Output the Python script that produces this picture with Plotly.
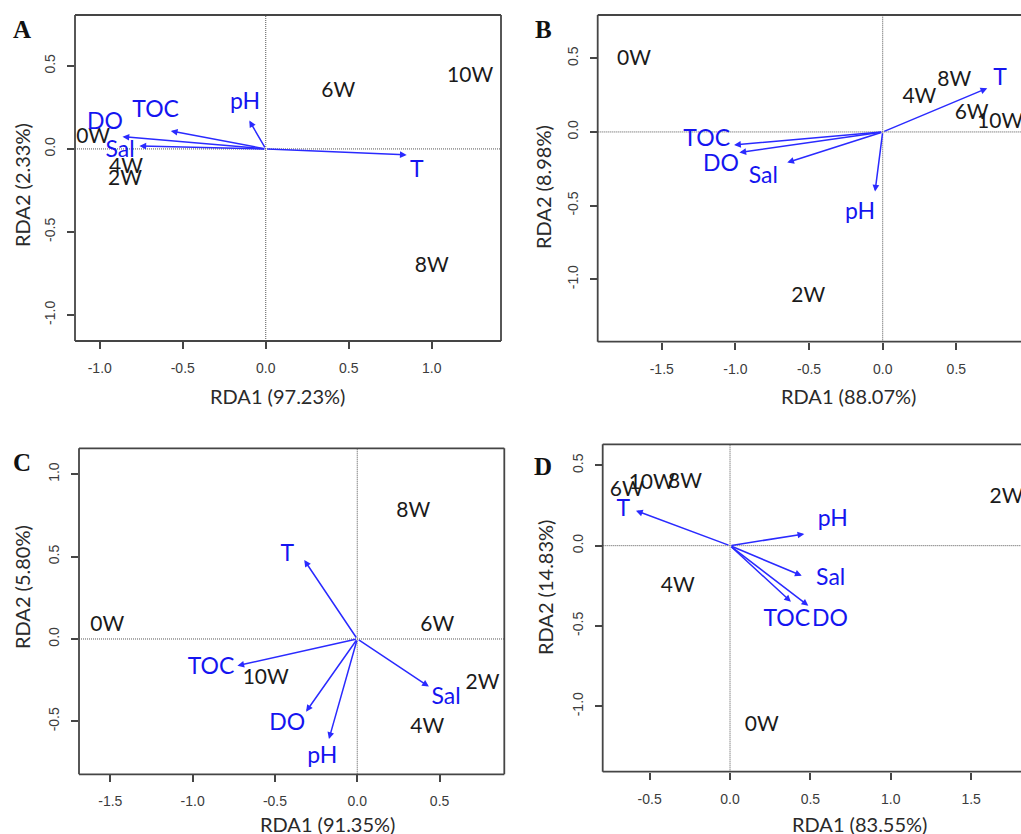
import plotly.graph_objects as go

# ---------------- data ----------------
sites = ["0W", "2W", "4W", "6W", "8W", "10W"]
env = ["T", "pH", "TOC", "DO", "Sal"]

A_site_x = [-1.04, -0.848, -0.842, 0.437, 1.0, 1.231]
A_site_y = [0.065, -0.187, -0.116, 0.345, -0.709, 0.436]
A_tip_x = [0.849, -0.099, -0.572, -0.863, -0.761]
A_tip_y = [-0.036, 0.171, 0.108, 0.074, 0.018]
A_lab_x = [0.91, -0.125, -0.663, -0.968, -0.878]
A_lab_y = [-0.137, 0.275, 0.229, 0.155, -0.016]

B_site_x = [-1.688, -0.505, 0.249, 0.604, 0.486, 0.797]
B_site_y = [0.493, -1.118, 0.235, 0.122, 0.346, 0.063]
B_tip_x = [0.710, -0.052, -1.009, -0.973, -0.648]
B_tip_y = [0.297, -0.405, -0.088, -0.140, -0.208]
B_lab_x = [0.796, -0.154, -1.195, -1.098, -0.81]
B_lab_y = [0.358, -0.552, -0.054, -0.229, -0.308]

C_site_x = [-1.518, 0.761, 0.425, 0.486, 0.34, -0.556]
C_site_y = [0.079, -0.273, -0.536, 0.079, 0.769, -0.243]
C_tip_x = [-0.322, -0.172, -0.728, -0.311, 0.435]
C_tip_y = [0.479, -0.607, -0.162, -0.441, -0.289]
C_lab_x = [-0.425, -0.212, -0.888, -0.425, 0.539]
C_lab_y = [0.51, -0.72, -0.178, -0.518, -0.36]

D_site_x = [0.197, 1.72, -0.325, -0.642, -0.280, -0.487]
D_site_y = [-1.123, 0.301, -0.255, 0.342, 0.392, 0.388]
D_tip_x = [-0.585, 0.462, 0.379, 0.487, 0.446]
D_tip_y = [0.218, 0.073, -0.349, -0.374, -0.187]
D_lab_x = [-0.664, 0.639, 0.353, 0.622, 0.626]
D_lab_y = [0.218, 0.16, -0.467, -0.463, -0.209]

panel_letters = ["A", "B", "C", "D"]
x_titles = ["RDA1 (97.23%)", "RDA1 (88.07%)", "RDA1 (91.35%)", "RDA1 (83.55%)"]
y_titles = ["RDA2 (2.33%)", "RDA2 (8.98%)", "RDA2 (5.80%)", "RDA2 (14.83%)"]

A_xticks = [-1.0, -0.5, 0.0, 0.5, 1.0]
A_yticks = [-1.0, -0.5, 0.0, 0.5]
B_xticks = [-1.5, -1.0, -0.5, 0.0, 0.5]
B_yticks = [-1.0, -0.5, 0.0, 0.5]
C_xticks = [-1.5, -1.0, -0.5, 0.0, 0.5]
C_yticks = [-0.5, 0.0, 0.5, 1.0]
D_xticks = [-0.5, 0.0, 0.5, 1.0, 1.5]
D_yticks = [-1.0, -0.5, 0.0, 0.5]

# ---------------- layout / styling ----------------
W, H = 1021, 834
BLUE_LINE = "#2a2aff"
BLUE_TEXT = "#1515f0"
FRAME = "#454545"
LABEL_FONT = "Lato"

panels = [
    dict(sx=A_site_x, sy=A_site_y, tx=A_tip_x, ty=A_tip_y, lx=A_lab_x, ly=A_lab_y,
         xr=[-1.149, 1.417], yr=[-1.157, 0.807], xt=A_xticks, yt=A_yticks,
         px=[75, 501], py=[15, 341], cut=False,
         letter=(22, 29), xtitle=(277, 396), ytitle=(22, 185)),
    dict(sx=B_site_x, sy=B_site_y, tx=B_tip_x, ty=B_tip_y, lx=B_lab_x, ly=B_lab_y,
         xr=[-1.935, 0.939], yr=[-1.424, 0.794], xt=B_xticks, yt=B_yticks,
         px=[597.7, 1021], py=[15, 341.7], cut=True,
         letter=(543, 29), xtitle=(848, 396), ytitle=(543, 187)),
    dict(sx=C_site_x, sy=C_site_y, tx=C_tip_x, ty=C_tip_y, lx=C_lab_x, ly=C_lab_y,
         xr=[-1.69, 0.893], yr=[-0.821, 1.157], xt=C_xticks, yt=C_yticks,
         px=[79, 504.3], py=[448.3, 774.3], cut=False,
         letter=(22, 462), xtitle=(327, 824), ytitle=(22, 587)),
    dict(sx=D_site_x, sy=D_site_y, tx=D_tip_x, ty=D_tip_y, lx=D_lab_x, ly=D_lab_y,
         xr=[-0.792, 1.81], yr=[-1.407, 0.631], xt=D_xticks, yt=D_yticks,
         px=[602.7, 1021], py=[444.3, 771.7], cut=True,
         letter=(543, 466), xtitle=(859, 824), ytitle=(545, 588)),
]


def fmt(v):
    return f"{v:.1f}"


fig = go.Figure()
layout = dict(width=W, height=H, margin=dict(l=0, r=0, t=0, b=0),
              paper_bgcolor="white", plot_bgcolor="white", showlegend=False)
shapes, annotations = [], []

for i, p in enumerate(panels):
    n = "" if i == 0 else str(i + 1)
    xa, ya = "x" + n, "y" + n
    xdom = [p["px"][0] / W, min(p["px"][1] / W, 1.0)]
    ydom = [1 - p["py"][1] / H, 1 - p["py"][0] / H]
    common = dict(showgrid=False, zeroline=False, showline=False, ticks="outside",
                  ticklen=7, tickwidth=1.5, tickcolor=FRAME,
                  tickfont=dict(family="Liberation Sans", size=14, color="#3c3c3c"))
    layout["xaxis" + n] = dict(domain=xdom, range=p["xr"], anchor=ya,
                               tickvals=p["xt"], ticktext=[fmt(v) for v in p["xt"]],
                               ticklabelstandoff=7, **common)
    layout["yaxis" + n] = dict(domain=ydom, range=p["yr"], anchor=xa,
                               tickvals=p["yt"], ticktext=[fmt(v) for v in p["yt"]],
                               tickangle=-90, ticklabelstandoff=6, **common)

    # dotted zero lines
    zl = dict(color="#555", width=1, dash="1px,1px")
    shapes.append(dict(type="line", xref=xa, yref=ya + " domain", x0=0, x1=0, y0=0, y1=1,
                       line=zl, layer="below"))
    shapes.append(dict(type="line", xref=xa + " domain", yref=ya, x0=0, x1=1, y0=0, y1=0,
                       line=zl, layer="below"))
    # frame
    fl = dict(color=FRAME, width=1.8)
    shapes.append(dict(type="line", xref=xa + " domain", yref=ya + " domain",
                       x0=0, x1=0, y0=0, y1=1, line=fl))
    shapes.append(dict(type="line", xref=xa + " domain", yref=ya + " domain",
                       x0=0, x1=1, y0=0, y1=0, line=fl))
    shapes.append(dict(type="line", xref=xa + " domain", yref=ya + " domain",
                       x0=0, x1=1, y0=1, y1=1, line=fl))
    if not p["cut"]:
        shapes.append(dict(type="line", xref=xa + " domain", yref=ya + " domain",
                           x0=1, x1=1, y0=0, y1=1, line=fl))

    # arrows (environmental vectors)
    for tx, ty in zip(p["tx"], p["ty"]):
        annotations.append(dict(x=tx, y=ty, ax=0, ay=0, xref=xa, yref=ya, axref=xa, ayref=ya,
                                text="", showarrow=True, arrowhead=2, arrowsize=0.9,
                                arrowwidth=1.5, arrowcolor=BLUE_LINE, standoff=0, startstandoff=0))

    # site labels
    fig.add_trace(go.Scatter(x=p["sx"], y=p["sy"], text=sites, mode="text", xaxis=xa, yaxis=ya,
                             textposition="middle center", cliponaxis=True, hoverinfo="skip",
                             textfont=dict(family=LABEL_FONT, size=21, color="#1a1a1a")))
    # env labels
    fig.add_trace(go.Scatter(x=p["lx"], y=p["ly"], text=env, mode="text", xaxis=xa, yaxis=ya,
                             textposition="middle center", cliponaxis=True, hoverinfo="skip",
                             textfont=dict(family=LABEL_FONT, size=23, color=BLUE_TEXT)))

    # panel letter
    lx, ly = p["letter"]
    annotations.append(dict(x=lx / W, y=1 - ly / H, xref="paper", yref="paper", text="<b>%s</b>" % panel_letters[i],
                            showarrow=False, xanchor="center", yanchor="middle",
                            font=dict(family="Liberation Serif", size=25, color="#111")))
    # axis titles
    tx_, ty_ = p["xtitle"]
    annotations.append(dict(x=tx_ / W, y=1 - ty_ / H, xref="paper", yref="paper", text=x_titles[i],
                            showarrow=False, xanchor="center", yanchor="middle",
                            font=dict(family=LABEL_FONT, size=20, color="#2a2a2a")))
    yx_, yy_ = p["ytitle"]
    annotations.append(dict(x=yx_ / W, y=1 - yy_ / H, xref="paper", yref="paper", text=y_titles[i],
                            showarrow=False, xanchor="center", yanchor="middle", textangle=-90,
                            font=dict(family=LABEL_FONT, size=20, color="#2a2a2a")))

layout["shapes"] = shapes
layout["annotations"] = annotations
fig.update_layout(**layout)
fig.write_html("out.html")
